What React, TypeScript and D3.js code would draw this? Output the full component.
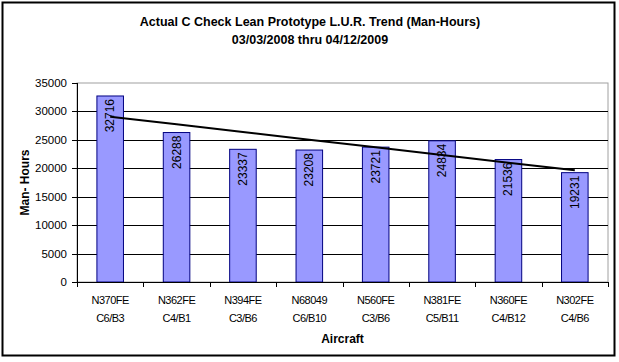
import React from 'react';
import * as d3 from 'd3';

const aircraft = ['N370FE', 'N362FE', 'N394FE', 'N68049', 'N560FE', 'N381FE', 'N360FE', 'N302FE'];
const checks = ['C6/B3', 'C4/B1', 'C3/B6', 'C6/B10', 'C3/B6', 'C5/B11', 'C4/B12', 'C4/B6'];
const manHours = [32716, 26288, 23337, 23208, 23721, 24834, 21536, 19231];
const yTicks = [0, 5000, 10000, 15000, 20000, 25000, 30000, 35000];

const W = 619, H = 362;
const plot = {left: 77, right: 608, top: 83, bottom: 282};

const App = () => {
    const x = d3.scaleBand<number>()
        .domain(d3.range(aircraft.length))
        .range([plot.left, plot.right])
        .paddingInner(0.6)
        .paddingOuter(0.3);
    const step = x.step();
    const y = d3.scaleLinear().domain([0, 35000]).range([plot.bottom, plot.top]);

    // linear trend line (least squares over bar index)
    const n = manHours.length;
    const mx = d3.mean(d3.range(n))!;
    const my = d3.mean(manHours)!;
    const slope = d3.sum(manHours, (v, i) => (i - mx) * (v - my)) / d3.sum(d3.range(n), i => (i - mx) ** 2);
    const trend = (i: number) => my + slope * (i - mx);
    const cx = (i: number) => x(i)! + x.bandwidth() / 2;
    const line = d3.line<number>().x(i => cx(i)).y(i => y(trend(i)));

    const font = 'Arial, "Liberation Sans", sans-serif';

    return (
        <svg width={W} height={H} style={{position: 'absolute', left: 0, top: 0}} fontFamily={font}>
            <rect x={0} y={0} width={W} height={H} fill="white"/>
            <rect x={2.5} y={2.5} width={612} height={353} fill="none" stroke="#000" strokeWidth={2}/>

            <text x={310} y={26} textAnchor="middle" fontSize={12.5} fontWeight="bold">
                Actual C Check Lean Prototype L.U.R. Trend (Man-Hours)
            </text>
            <text x={310} y={44} textAnchor="middle" fontSize={12.5} fontWeight="bold">
                03/03/2008 thru 04/12/2009
            </text>

            {/* plot area border */}
            <rect x={plot.left} y={plot.top} width={plot.right - plot.left} height={plot.bottom - plot.top}
                  fill="none" stroke="#a0a0a0" strokeWidth={1}/>

            {/* gridlines + y ticks */}
            {yTicks.map(t => (
                <g key={t}>
                    {t > 0 && t < 35000 &&
                        <line x1={plot.left} x2={plot.right} y1={Math.round(y(t)) + 0.5} y2={Math.round(y(t)) + 0.5}
                              stroke="#000" strokeWidth={1}/>}
                    <line x1={plot.left - 5} x2={plot.left} y1={Math.round(y(t)) + 0.5} y2={Math.round(y(t)) + 0.5}
                          stroke="#000"/>
                    <text x={plot.left - 10} y={y(t) + 4} textAnchor="end" fontSize={11.5}>{t}</text>
                </g>
            ))}

            {/* bars */}
            {manHours.map((v, i) => (
                <rect key={i} x={x(i)} y={y(v)} width={x.bandwidth()} height={plot.bottom - y(v)}
                      fill="#9999FF" stroke="#000080" strokeWidth={1}/>
            ))}

            {/* axes */}
            <line x1={plot.left + 0.5} x2={plot.left + 0.5} y1={plot.top} y2={plot.bottom} stroke="#000"/>
            <line x1={plot.left} x2={plot.right} y1={plot.bottom + 0.5} y2={plot.bottom + 0.5} stroke="#000"/>
            {d3.range(n + 1).map(i => {
                const tx = Math.round(plot.left + i * step) + 0.5;
                return <line key={i} x1={tx} x2={tx} y1={plot.bottom} y2={plot.bottom + 5} stroke="#000"/>;
            })}

            {/* trend line */}
            <path d={line(d3.range(n)) || ''} fill="none" stroke="#000" strokeWidth={2}/>

            {/* value labels */}
            {manHours.map((v, i) => (
                <text key={i} transform={`translate(${cx(i) + 4},${y(v) + 3}) rotate(-90)`}
                      textAnchor="end" fontSize={12}>{v}</text>
            ))}

            {/* category labels */}
            {aircraft.map((a, i) => (
                <g key={i}>
                    <text x={cx(i)} y={304} textAnchor="middle" fontSize={11} letterSpacing={-0.5}>{a}</text>
                    <text x={cx(i)} y={322} textAnchor="middle" fontSize={11} letterSpacing={-0.5}>{checks[i]}</text>
                </g>
            ))}

            <text x={cx(3) + step / 2} y={343} textAnchor="middle" fontSize={12} fontWeight="bold">Aircraft</text>
            <text transform={`translate(29,${(plot.top + plot.bottom) / 2}) rotate(-90)`} textAnchor="middle"
                  fontSize={12} fontWeight="bold">Man- Hours</text>
        </svg>
    );
};

export default App;
